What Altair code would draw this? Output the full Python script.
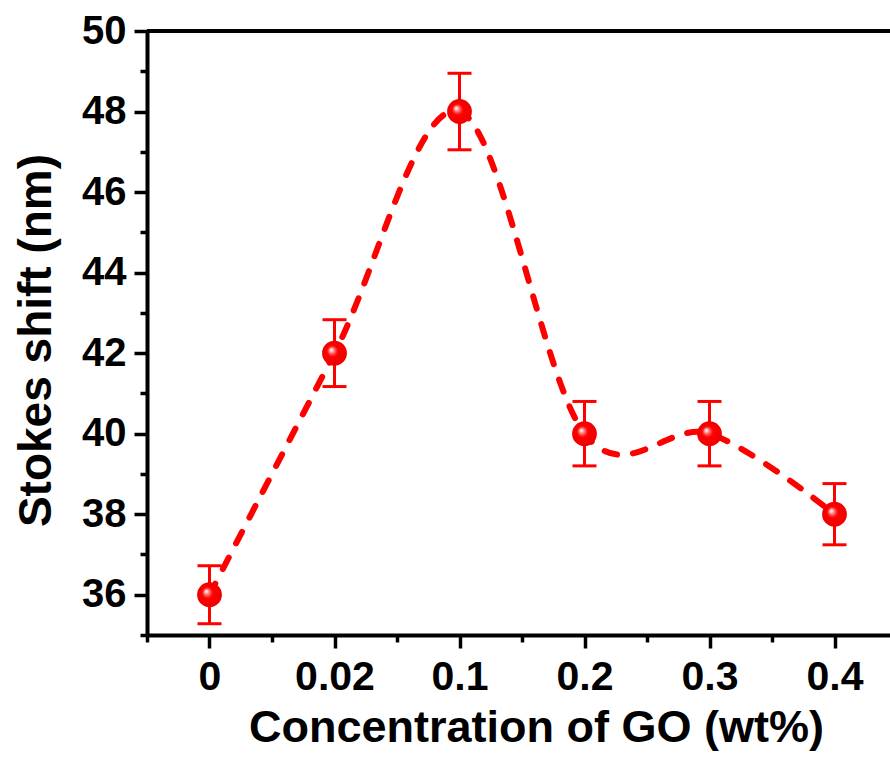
import json
import altair as alt
import pandas as pd

# ---- data ----
x_labels = ["0", "0.02", "0.1", "0.2", "0.3", "0.4"]
stokes_shift = [36, 42, 48, 40, 40, 38]
error = [0.72, 0.83, 0.95, 0.8, 0.8, 0.76]

y_major = [36, 38, 40, 42, 44, 46, 48, 50]
y_minor = [35, 37, 39, 41, 43, 45, 47, 49]
x_major = [0, 1, 2, 3, 4, 5]
x_minor = [-0.5, 0.5, 1.5, 2.5, 3.5, 4.5]

df = pd.DataFrame({
    "idx": list(range(len(x_labels))),
    "label": x_labels,
    "y": stokes_shift,
})
df["lo"] = [v - e for v, e in zip(stokes_shift, error)]
df["hi"] = [v + e for v, e in zip(stokes_shift, error)]

FONT = "Liberation Sans"
RED = "#ff0000"
label_expr = json.dumps(x_labels) + "[round(datum.value)]"

x_scale = alt.Scale(domain=[-0.5, 5.444], nice=False, zero=False)
y_scale = alt.Scale(domain=[35, 50], nice=False, zero=False)

x_axis = alt.Axis(
    orient="bottom", values=x_major, labelExpr=label_expr,
    title="Concentration of GO (wt%)", grid=False,
    labelFont=FONT, labelFontSize=41, labelFontWeight="bold", labelColor="black",
    labelPadding=9, labelFlush=False,
    tickSize=13, tickWidth=3.5, tickColor="black",
    domainWidth=4, domainColor="black",
    titleFont=FONT, titleFontSize=45, titleFontWeight="bold", titleColor="black",
    titleX=389, titleY=106, titleBaseline="alphabetic", titleAlign="center",
)
y_axis = alt.Axis(
    orient="left", values=y_major, format="d",
    title="Stokes shift (nm)", grid=False,
    labelFont=FONT, labelFontSize=40, labelFontWeight="bold", labelColor="black",
    labelPadding=8, labelFlush=False,
    tickSize=13, tickWidth=3.5, tickColor="black",
    domainWidth=4, domainColor="black",
    titleFont=FONT, titleFontSize=46, titleFontWeight="bold", titleColor="black",
    titleX=-97, titleY=309, titleAngle=270, titleBaseline="alphabetic", titleAlign="center",
)
x_minor_axis = alt.Axis(orient="bottom", values=x_minor, labels=False, title=None,
                        domain=False, grid=False, tickSize=7, tickWidth=3.5, tickColor="black")
y_minor_axis = alt.Axis(orient="left", values=y_minor, labels=False, title=None,
                        domain=False, grid=False, tickSize=7, tickWidth=3.5, tickColor="black")

base = alt.Chart(df)

top_rule = base.mark_rule(color="black", strokeWidth=4).encode(
    y=alt.datum(50, scale=y_scale, axis=y_axis, type="quantitative")
)

line = base.mark_line(
    color=RED, strokeWidth=6, strokeDash=[13, 16], strokeCap="round",
    interpolate="cardinal", tension=0,
).encode(
    x=alt.X("idx:Q", scale=x_scale, axis=x_axis),
    y=alt.Y("y:Q", scale=y_scale, axis=y_axis),
)

err_rule = base.mark_rule(color=RED, strokeWidth=3).encode(
    x=alt.X("idx:Q", scale=x_scale, axis=x_axis),
    y=alt.Y("lo:Q", scale=y_scale, axis=y_axis),
    y2="hi:Q",
)
cap_lo = base.mark_tick(color=RED, orient="horizontal", size=24, thickness=3, opacity=1).encode(
    x=alt.X("idx:Q", scale=x_scale, axis=x_axis),
    y=alt.Y("lo:Q", scale=y_scale, axis=y_axis),
)
cap_hi = base.mark_tick(color=RED, orient="horizontal", size=24, thickness=3, opacity=1).encode(
    x=alt.X("idx:Q", scale=x_scale, axis=x_axis),
    y=alt.Y("hi:Q", scale=y_scale, axis=y_axis),
)

sphere = {
    "gradient": "radial",
    "x1": 0.36, "y1": 0.36, "r1": 0,
    "x2": 0.5, "y2": 0.5, "r2": 0.5,
    "stops": [
        {"offset": 0.0, "color": "#ffffff"},
        {"offset": 0.1, "color": "#ffc8c8"},
        {"offset": 0.28, "color": "#ff5050"},
        {"offset": 0.45, "color": "#ff0000"},
        {"offset": 1.0, "color": "#f00000"},
    ],
}
points = base.mark_point(filled=True, shape="circle", size=616, fill=sphere,
                         strokeWidth=0, opacity=1).encode(
    x=alt.X("idx:Q", scale=x_scale, axis=x_axis),
    y=alt.Y("y:Q", scale=y_scale, axis=y_axis),
)

minor = base.mark_point(opacity=0).encode(
    x=alt.X("idx:Q", scale=x_scale, axis=x_minor_axis),
    y=alt.Y("y:Q", scale=y_scale, axis=y_minor_axis),
)

main = alt.layer(top_rule, line, err_rule, cap_lo, cap_hi, points)

chart = alt.layer(main, minor).resolve_axis(x="independent", y="independent").properties(
    width=743, height=604,
    autosize=alt.AutoSizeParams(type="none"),
    padding={"left": 147, "top": 31, "right": 0, "bottom": 126},
    background="white",
).configure_view(stroke=None)

chart.save("out.html", embed_options={"renderer": "svg", "actions": False})
